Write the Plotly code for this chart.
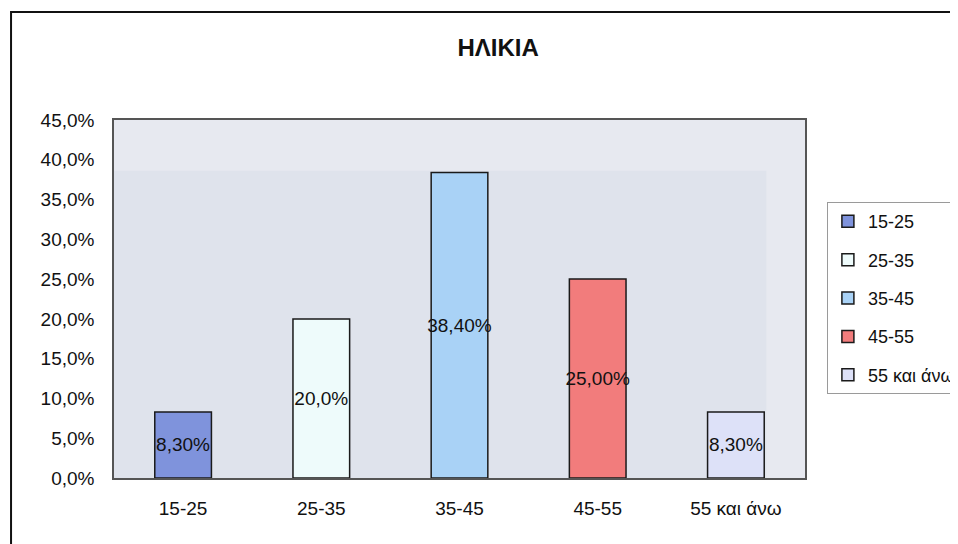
import plotly.graph_objects as go

categories = ["15-25", "25-35", "35-45", "45-55", "55 και άνω"]
values = [8.3, 20.0, 38.4, 25.0, 8.3]
value_labels = ["8,30%", "20,0%", "38,40%", "25,00%", "8,30%"]
bar_colors = ["#7f93dc", "#eefbfb", "#a9d2f6", "#f27c7c", "#dde1f8"]
tick_vals = [0, 5, 10, 15, 20, 25, 30, 35, 40, 45]
tick_text = ["0,0%", "5,0%", "10,0%", "15,0%", "20,0%", "25,0%", "30,0%", "35,0%", "40,0%", "45,0%"]
title_text = "ΗΛΙΚΙΑ"

FONT = "Liberation Sans, Arial, sans-serif"

fig = go.Figure()
for i, (cat, val, lab, col) in enumerate(zip(categories, values, value_labels, bar_colors)):
    fig.add_trace(go.Bar(
        x=[cat], y=[val], name=cat, text=[lab],
        textposition="inside", insidetextanchor="middle", textangle=0,
        constraintext="none",
        textfont=dict(color="#111111", size=19, family=FONT),
        marker=dict(color=col, line=dict(color="#1a1a1a", width=1.5)),
        width=0.41, legendgroup=f"g{i}", cliponaxis=False,
    ))

fig.update_layout(
    width=950, height=536,
    margin=dict(l=106, r=153, t=112, b=66),
    paper_bgcolor="#ffffff",
    plot_bgcolor="#e7e9f0",
    barmode="overlay",
    title=dict(text=f"<b>{title_text}</b>", x=0.516, xref="container", xanchor="center",
               y=0.926, yref="container", yanchor="middle",
               font=dict(size=24, color="#111111", family=FONT)),
    font=dict(family=FONT, size=19, color="#111111"),
    showlegend=True,
    legend=dict(x=0.862, xref="container", xanchor="left",
                y=0.638, yref="container", yanchor="top",
                bgcolor="#ffffff", bordercolor="#9a9a9a", borderwidth=1,
                font=dict(size=18, family=FONT, color="#111111"),
                traceorder="grouped", tracegroupgap=12, itemwidth=30),
    xaxis=dict(showgrid=False, showline=True, linecolor="#555555", linewidth=1.5,
               mirror=True, ticks="", ticklabelstandoff=12,
               tickfont=dict(size=19, family=FONT)),
    yaxis=dict(range=[0, 45], tickvals=tick_vals, ticktext=tick_text,
               showgrid=False, showline=True, linecolor="#555555", linewidth=1.5,
               mirror=True, ticks="", ticklabelstandoff=14, zeroline=False,
               tickfont=dict(size=19, family=FONT)),
    shapes=[
        dict(type="rect", xref="paper", yref="paper", x0=0, x1=0.944, y0=0, y1=0.858,
             fillcolor="#dfe3ec", line=dict(width=0), layer="below"),
        dict(type="rect", xref="paper", yref="paper", x0=-0.149, x1=1.5, y0=-1, y1=1.302,
             fillcolor="rgba(0,0,0,0)", line=dict(color="#111111", width=2)),
    ],
)

fig.write_html("out.html")
